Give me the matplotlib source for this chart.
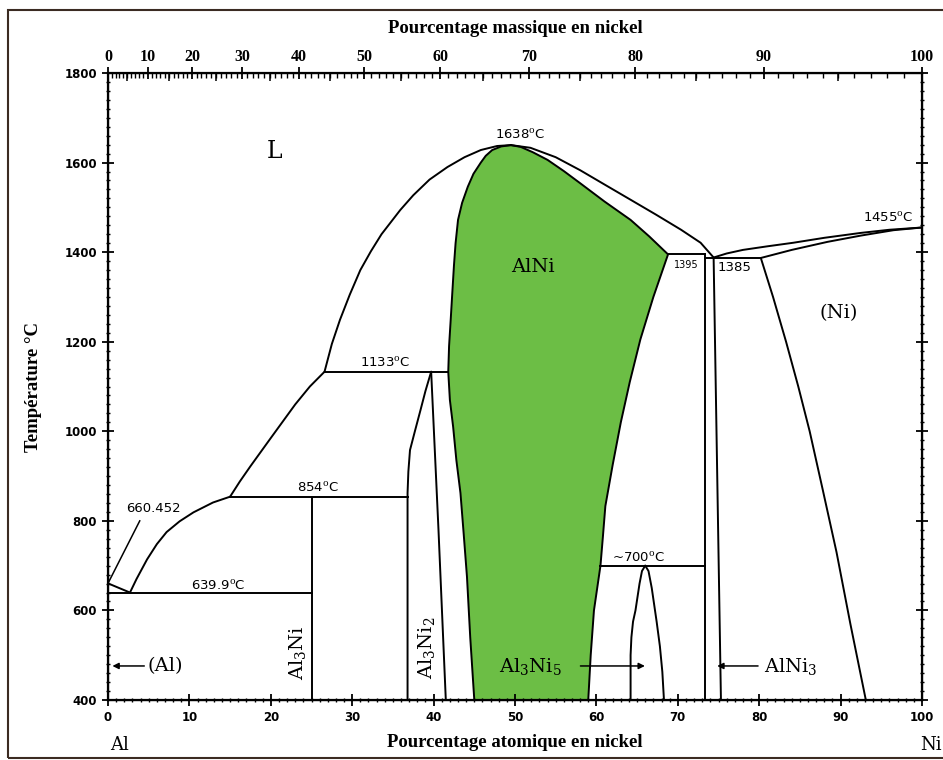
import numpy as np
import matplotlib.pyplot as plt
from matplotlib.patches import Rectangle

plt.rcParams['mathtext.fontset'] = 'dejavuserif'

# masses atomiques pour l'axe du haut
M_AL, M_NI = 26.98, 58.69

# liquidus
liq_al_x = [0, 2.7]
liq_al_t = [660.452, 639.9]
liq1_x = [2.7, 3.5, 4.8, 6.0, 7.2, 8.8, 10.5, 12.9, 15.0]
liq1_t = [639.9, 670, 714, 748, 775, 799, 819, 841, 854]
liq2_x = [15.0, 16.2, 17.5, 20.0, 23.0, 24.8, 26.6]
liq2_t = [854, 888, 922, 985, 1060, 1100, 1133]
liq3_x = [26.6, 27.5, 28.5, 29.7, 31.0, 32.3, 33.6, 35.9, 37.5, 39.5, 41.7, 43.8, 45.8, 47.8, 49.5]
liq3_t = [1133, 1195, 1249, 1305, 1360, 1402, 1440, 1494, 1527, 1562, 1590, 1612, 1628, 1637, 1639]
liq4_x = [49.5, 51.9, 55.0, 58.0, 61.0, 64.2, 67.3, 70.4, 72.8, 74.4]
liq4_t = [1639, 1633, 1612, 1583, 1551, 1517, 1484, 1450, 1421, 1388]
liq_ni_x = [74.4, 76.0, 78.0, 81.0, 84.2, 88.0, 92.5, 96.0, 100]
liq_ni_t = [1388, 1397, 1405, 1413, 1421, 1432, 1443, 1450, 1455]

# (Ni)
sol_ni_x = [80.2, 84.0, 88.4, 92.5, 96.5, 100]
sol_ni_t = [1387, 1405, 1423, 1437, 1449, 1455]
solv_ni_x = [80.2, 81.7, 83.3, 84.8, 86.2, 87.8, 89.5, 91.2, 93.1]
solv_ni_t = [1387, 1300, 1200, 1100, 1000, 870, 730, 570, 400]

# AlNi (zone verte)
alni_left_x = [49.5, 48.3, 47.2, 46.4, 45.8, 44.9, 44.2, 43.5, 43.0, 42.7, 42.5, 42.3, 42.1,
               41.9, 41.8, 42.0, 42.4, 42.8, 43.3, 43.7, 44.1, 44.5, 45.0]
alni_left_t = [1639, 1636, 1628, 1615, 1600, 1575, 1546, 1510, 1472, 1420, 1370, 1310, 1249,
               1190, 1133, 1070, 1010, 935, 862, 770, 675, 540, 400]
alni_right_x = [49.5, 50.7, 52.2, 54.0, 56.0, 58.0, 61.0, 64.2, 66.5, 68.8,
                67.0, 65.4, 64.1, 63.0, 62.0, 61.1, 60.8, 60.5, 60.1, 59.7, 59.3, 59.0]
alni_right_t = [1639, 1635, 1623, 1606, 1581, 1554, 1513, 1472, 1435, 1395,
                1300, 1205, 1110, 1020, 925, 833, 765, 700, 650, 600, 500, 400]

# Al3Ni2, Al3Ni, Al3Ni5, AlNi3
al3ni2_left_x = [39.7, 39.0, 38.4, 37.7, 37.1, 36.9, 36.8, 36.8]
al3ni2_left_t = [1133, 1090, 1048, 1000, 958, 910, 862, 400]
al3ni2_right_x = [39.7, 40.6, 41.5]
al3ni2_right_t = [1133, 780, 400]
al3ni_x = [25, 25]
al3ni_t = [400, 854]
al3ni5_left_x = [66.0, 65.6, 65.3, 64.8, 64.5, 64.3, 64.2, 64.2]
al3ni5_left_t = [700, 688, 660, 600, 575, 540, 500, 400]
al3ni5_right_x = [66.0, 66.4, 66.8, 67.4, 67.8, 68.1, 68.3]
al3ni5_right_t = [700, 688, 650, 575, 520, 463, 400]
alni3_left_x = [73.4, 73.4]
alni3_left_t = [1395, 400]
alni3_right_x = [74.4, 75.3]
alni3_right_t = [1388, 400]

# paliers (x debut, x fin, T)
paliers = [(0, 25, 639.9), (15.0, 36.8, 854), (26.6, 41.8, 1133),
           (68.8, 73.4, 1395), (73.4, 80.2, 1387), (60.5, 73.4, 700)]

green = '#6cbe45'
lw = 1.4

fig = plt.figure(figsize=(9.43, 7.6), dpi=100)
ax = fig.add_axes([108/943, 1-700/760, (922-108)/943, (700-73)/760])
ax.set_xlim(0, 100)
ax.set_ylim(400, 1800)

ax.fill(alni_left_x[::-1] + alni_right_x, alni_left_t[::-1] + alni_right_t,
        color=green, lw=0)

curves = [(liq_al_x, liq_al_t), (liq1_x, liq1_t), (liq2_x, liq2_t), (liq3_x, liq3_t),
          (liq4_x, liq4_t), (liq_ni_x, liq_ni_t), (sol_ni_x, sol_ni_t), (solv_ni_x, solv_ni_t),
          (alni_left_x, alni_left_t), (alni_right_x, alni_right_t),
          (al3ni2_left_x, al3ni2_left_t), (al3ni2_right_x, al3ni2_right_t), (al3ni_x, al3ni_t),
          (al3ni5_left_x, al3ni5_left_t), (al3ni5_right_x, al3ni5_right_t),
          (alni3_left_x, alni3_left_t), (alni3_right_x, alni3_right_t)]
for cx, ct in curves:
    ax.plot(cx, ct, color='black', lw=lw, solid_joinstyle='round', solid_capstyle='round')
for x0, x1, t in paliers:
    ax.plot([x0, x1], [t, t], color='black', lw=lw)

# trait de rappel 660.452
ax.plot([0, 3.9], [660.452, 800], color='black', lw=1.1)

# fleches
arr = dict(arrowstyle='-|>', color='black', lw=1.1, mutation_scale=9)
ax.annotate('', xy=(0.2, 476), xytext=(4.8, 476), arrowprops=arr)
ax.annotate('', xy=(66.3, 476), xytext=(57.7, 476), arrowprops=arr)
ax.annotate('', xy=(74.5, 476), xytext=(80.2, 476), arrowprops=arr)

serif = 'DejaVu Serif'
ax.text(20.5, 1624, 'L', family=serif, fontsize=17, ha='center', va='center')
ax.text(52.2, 1367, 'AlNi', family=serif, fontsize=14, ha='center', va='center')
ax.text(89.8, 1265, '(Ni)', family=serif, fontsize=14, ha='center', va='center')
ax.text(4.9, 476, '(Al)', family=serif, fontsize=14, ha='left', va='center')
ax.text(23.3, 505, 'Al$_3$Ni', family=serif, fontsize=14, ha='center', va='center', rotation=90)
ax.text(39.1, 516, 'Al$_3$Ni$_2$', family=serif, fontsize=14, ha='center', va='center', rotation=90)
ax.text(51.9, 474, 'Al$_3$Ni$_5$', family=serif, fontsize=14, ha='center', va='center')
ax.text(80.6, 474, 'AlNi$_3$', family=serif, fontsize=14, ha='left', va='center')

deg = '$^{\\mathrm{o}}$C'
num = dict(family='DejaVu Sans', fontsize=9.5, ha='center', va='center')
ax.text(50.6, 1662, '1638' + deg, **num)
ax.text(34.0, 1153, '1133' + deg, **num)
ax.text(25.8, 874, '854' + deg, **num)
ax.text(13.5, 654, '639.9' + deg, **num)
ax.text(5.6, 828, '660.452', **num)
ax.text(65.2, 717, '~700' + deg, **num)
ax.text(95.8, 1477, '1455' + deg, **num)
ax.text(77.0, 1365, '1385', **num)
ax.text(71.0, 1372, '1395', family='DejaVu Sans', fontsize=7, ha='center', va='center')

# axes
for s in ax.spines.values():
    s.set_linewidth(1.6)
ax.set_xticks(np.arange(0, 101, 10))
ax.set_xticks(np.arange(0, 101, 1), minor=True)
ax.set_yticks(np.arange(400, 1801, 200))
ax.set_yticks(np.arange(400, 1801, 20), minor=True)
ax.tick_params(which='major', direction='inout', length=9, width=1.3,
               labelsize=8.5, right=True)
ax.tick_params(which='minor', direction='inout', length=3.5, width=1.0, right=True)
for lab in ax.get_xticklabels() + ax.get_yticklabels():
    lab.set_fontweight('bold')
    lab.set_family('DejaVu Sans')

ax.set_xlabel('Pourcentage atomique en nickel', family='Liberation Serif',
              fontweight='bold', fontsize=13.5, labelpad=7)
ax.set_ylabel('Température °C', family='Liberation Serif', fontweight='bold',
              fontsize=13.5, labelpad=16)


def wt2at(w):
    w = np.asarray(w, dtype=float)
    return 100 * (w / M_NI) / (w / M_NI + (100 - w) / M_AL)


top_vals = np.arange(0, 101, 10)
top = ax.twiny()
top.set_xlim(0, 100)
top.set_xticks(wt2at(top_vals))
top.set_xticklabels([str(v) for v in top_vals])
top.set_xticks(wt2at(np.arange(0, 101, 1)), minor=True)
top.tick_params(which='major', direction='inout', length=9, width=1.3, labelsize=11.5, pad=1)
top.tick_params(which='minor', direction='in', length=3.5, width=1.0)
for lab in top.get_xticklabels():
    lab.set_fontweight('bold')
    lab.set_family('Liberation Serif')
top2 = ax.twiny()
top2.set_xlim(0, 100)
top2.set_xticks(wt2at(np.arange(5, 100, 10)))
top2.set_xticklabels([])
top2.tick_params(direction='in', length=6, width=1.1)
top.set_xlabel('Pourcentage massique en nickel', family='Liberation Serif',
               fontweight='bold', fontsize=13.5, labelpad=12)

fig.text(120/943, 1-745/760, 'Al', family=serif, fontsize=13, ha='center', va='center')
fig.text(942/943, 1-745/760, 'Ni', family=serif, fontsize=13, ha='right', va='center')

fig.patches.append(Rectangle((8/943, 2/760), 1.2, 1-12/760, transform=fig.transFigure,
                             fill=False, edgecolor='#3b2b22', lw=1.5))

fig.savefig('out.png', dpi=100)
